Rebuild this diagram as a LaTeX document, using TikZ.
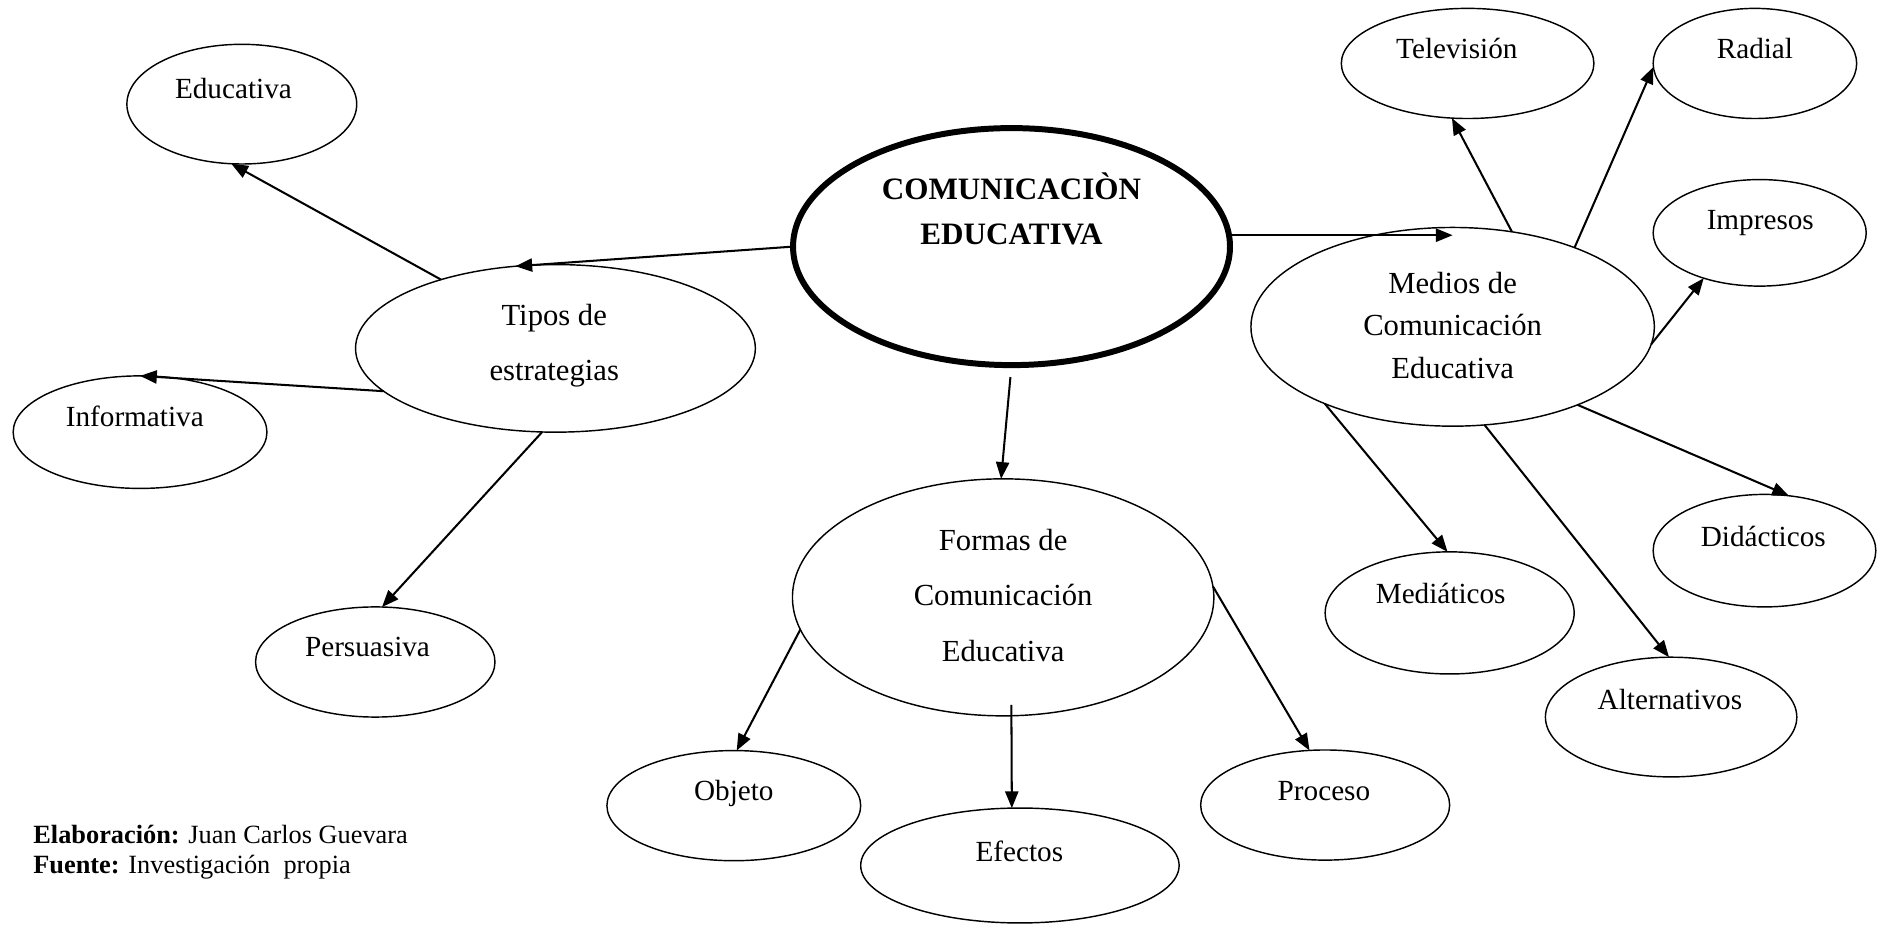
\documentclass[tikz,border=0pt]{standalone}
\usepackage{fontspec}
\setmainfont{Liberation Serif}
\usetikzlibrary{shapes.geometric,arrows.meta}
\begin{document}
\begin{tikzpicture}[x=0.5pt,y=-0.5pt,
  ell/.style={draw,ellipse,line width=0.6pt,inner sep=0pt,outer sep=0pt},
  mainell/.style={draw,ellipse,line width=2.5pt,inner sep=0pt,outer sep=0pt},
  lbl/.style={anchor=base,inner sep=0pt,font=\fontsize{12.2}{14}\selectfont},
  biglbl/.style={anchor=base,inner sep=0pt,font=\fontsize{12.8}{14}\selectfont},
  comlbl/.style={anchor=base,inner sep=0pt,font=\fontsize{13}{14}\selectfont\bfseries},
  notelbl/.style={anchor=base west,inner sep=0pt,font=\fontsize{11}{12}\selectfont},
  arr/.style={line width=0.85pt,-{Triangle[length=7pt,width=5.5pt]}}]
\useasboundingbox (0,0) rectangle (1568,772.7);
% ellipses
\node[mainell,minimum width=182.5pt,minimum height=99pt] (com) at (845,206) {};
\node[ell,minimum width=96pt,minimum height=50pt] (edu) at (202,87) {};
\node[ell,minimum width=167pt,minimum height=70pt] (tipos) at (464,291) {};
\node[ell,minimum width=106pt,minimum height=47pt] (info) at (117,361) {};
\node[ell,minimum width=100pt,minimum height=46pt] (pers) at (313.5,553) {};
\node[ell,minimum width=168.5pt,minimum height=83pt] (medios) at (1213.5,273) {};
\node[ell,minimum width=105.5pt,minimum height=46pt] (tele) at (1226,53) {};
\node[ell,minimum width=85pt,minimum height=46pt] (radial) at (1466,53) {};
\node[ell,minimum width=89pt,minimum height=44.5pt] (impr) at (1470,194.5) {};
\node[ell,minimum width=93pt,minimum height=47pt] (did) at (1474,460) {};
\node[ell,minimum width=104pt,minimum height=51pt] (mediat) at (1211,512) {};
\node[ell,minimum width=105pt,minimum height=50pt] (alt) at (1396,599) {};
\node[ell,minimum width=176pt,minimum height=99pt] (formas) at (838,499) {};
\node[ell,minimum width=106pt,minimum height=46pt] (obj) at (613,673) {};
\node[ell,minimum width=133pt,minimum height=48pt] (efe) at (852,723) {};
\node[ell,minimum width=104pt,minimum height=46pt] (proc) at (1107,672.5) {};
% texts
\node[comlbl] (comt1) at (845,167) {COMUNICACIÒN};
\node[comlbl] (comt2) at (845,204) {EDUCATIVA};
\node[lbl] (edut) at (195,82) {Educativa};
\node[biglbl] (tipost1) at (463,271.5) {Tipos de};
\node[biglbl] (tipost2) at (463,317.5) {estrategias};
\node[lbl] (infot) at (112.6,356.5) {Informativa};
\node[lbl] (perst) at (307,548.6) {Persuasiva};
\node[biglbl] (mediost1) at (1213.5,245) {Medios de};
\node[biglbl] (mediost2) at (1213.5,280) {Comunicación};
\node[biglbl] (mediost3) at (1213.5,316) {Educativa};
\node[lbl] (telet) at (1217,48.7) {Televisión};
\node[lbl] (radialt) at (1466,48.7) {Radial};
\node[lbl] (imprt) at (1470.5,192) {Impresos};
\node[lbl] (didt) at (1473,456.7) {Didácticos};
\node[lbl] (mediatt) at (1203.5,504) {Mediáticos};
\node[lbl] (altt) at (1395,593) {Alternativos};
\node[biglbl] (formast1) at (838,459.5) {Formas de};
\node[biglbl] (formast2) at (838,506) {Comunicación};
\node[biglbl] (formast3) at (838,553) {Educativa};
\node[lbl] (objt) at (613,668.5) {Objeto};
\node[lbl] (efet) at (851.5,720) {Efectos};
\node[lbl] (proct) at (1106,668.3) {Proceso};
\node[notelbl] (note1) at (27.5,704.5) {\textbf{Elaboración:} Juan Carlos Guevara};
\node[notelbl] (note2) at (27.5,730) {\textbf{Fuente:} Investigación\ \ propia};
% connectors
\draw[arr] (com.180.6) -- (tipos.116.3);
\draw[arr] (tipos.149.5) -- (edu.260.5);
\draw[arr] (tipos.194.3) -- (info.90);
\draw[arr] (tipos.261) -- (pers.83.2);
\draw[arr] (com.3.7) -- (com.3.7 -| medios.north);
\draw[arr,shorten <=5pt] (com.270) -- (formas.91);
\draw[arr] (medios.58.6) -- (tele.254);
\draw[arr] (medios.33.2) -- (radial.182);
\draw[arr] (medios.355.2) -- (impr.219.4);
\draw[arr] (medios.328.3) -- (did.66);
\draw[arr] (medios.211.6) -- (mediat.92.7);
\draw[arr] (medios.288.5) -- (alt.92.3);
\draw[arr] (formas.189) -- (obj.87.6);
\draw[arr,shorten <=-4.5pt] (formas.274.4) -- (efe.98.3);
\draw[arr] (formas.3.9) -- (proc.106.8);
\end{tikzpicture}
\end{document}
